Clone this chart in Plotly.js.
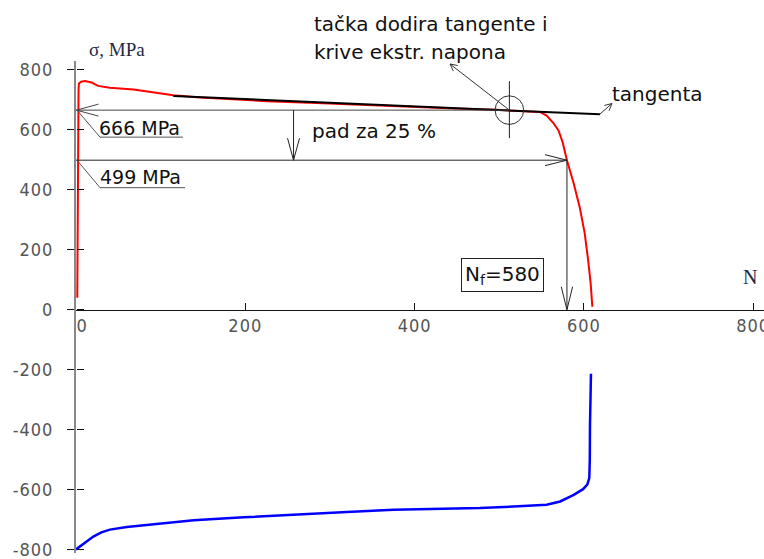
<!DOCTYPE html>
<html>
<head>
<meta charset="utf-8">
<script src="https://cdn.plot.ly/plotly-3.0.1.min.js"></script>
<style>
html,body{margin:0;padding:0;background:#fff;}
#chart{width:764px;height:559px;}
.xtick text, .ytick text { letter-spacing: 1px; }
</style>
</head>
<body>
<div id="chart"></div>
<script>
// ---- data ----
const maxN = [1.5, 1.8, 2.2, 3, 3.5, 6, 10.6, 18.5, 26, 40, 68, 95, 115, 146.5, 186, 225, 284, 340, 418, 470, 497, 512, 530, 548, 556, 564, 570, 575, 580, 588, 595, 601, 605, 608, 610];
const maxS = [40, 300, 600, 735, 755, 761, 763, 758, 747, 741, 735, 725, 716, 708, 701, 696, 690, 683, 673, 669, 667, 665, 663, 660, 648, 623, 598, 558, 499, 421, 343, 255, 166, 88, 10];

const minN = [0, 10, 20.5, 30, 40, 60, 99, 139, 198, 264, 320, 375, 430, 477, 517, 556, 572, 588, 599, 604, 606.4, 607, 607.2, 607.6, 608.4];
const minS = [-800, -780, -757, -743, -734, -725, -714, -703, -693, -682, -675, -668, -665, -662, -657, -651, -640, -618, -599, -584, -562, -501, -390, -279, -214];

const tangentN = [115, 619];
const tangentS = [713, 652];

const sigmaTouch = 666;   // stress at tangent point
const sigmaDrop = 499;    // 25 % drop
const Nf = 580;           // cycles to failure
const Ntouch = 512;       // tangent touch point
const Npad = 257;         // position of "pad za 25 %" arrow

const xTickVals = [0, 200, 400, 600, 800];
const xTickText = ['\u00a0\u00a00', '200', '400', '600', '800'];
const yTickVals = [-800, -600, -400, -200, 0, 200, 400, 600, 800];
const yTickText = ['-800', '-600', '-400', '-200', '0', '200', '400', '600', '800'];

// ---- geometry ----
const W = 764, H = 559;
const M = {l: 76, r: 0, t: 61, b: 6};
const plotW = W - M.l - M.r, plotH = H - M.t - M.b;
const xr = [0, 812.8], yr = [-812, 830];
const kx = plotW / (xr[1] - xr[0]);
const ky = plotH / (yr[1] - yr[0]);
const toN = px => xr[0] + (px - M.l) / kx;
const toS = py => yr[1] - (py - M.t) / ky;
const pxOfN = n => M.l + (n - xr[0]) * kx;
const pyOfS = s => M.t + (yr[1] - s) * ky;
const paperX = px => (px - M.l) / plotW;
const paperY = py => 1 - (py - M.t) / plotH;

const ink = '#222';
const shapes = [];
function seg(x0, y0, x1, y1, color, width) {
  shapes.push({type: 'line', xref: 'x', yref: 'y', x0: x0, y0: y0, x1: x1, y1: y1,
    line: {color: color || ink, width: width || 1}});
}
function segPx(a, b, c, d, color, width) { seg(toN(a), toS(b), toN(c), toS(d), color, width); }
// open "V" arrow head at tip (data), pointing in pixel direction (dx,dy)
function head(n, s, dx, dy, len, half, color) {
  len = len || 22; half = half || 6;
  const L = Math.hypot(dx, dy); dx /= L; dy /= L;
  const tx = pxOfN(n), ty = pyOfS(s);
  const bx = tx - dx * len, by = ty - dy * len;
  const px = -dy, py = dx;
  segPx(tx, ty, bx + px * half, by + py * half, color);
  segPx(tx, ty, bx - px * half, by - py * half, color);
}

// horizontal at 666 with arrow to the axis
seg(0, sigmaTouch, Ntouch, sigmaTouch, '#444', 1);
head(0.6, sigmaTouch, -1, 0, 22, 6, '#444');
// pad arrow
seg(Npad, sigmaTouch, Npad, sigmaDrop, ink, 1);
head(Npad, sigmaDrop, 0, 1, 22, 6);
// horizontal at 499 to the curve
seg(0, sigmaDrop, Nf, sigmaDrop, ink, 1);
head(Nf, sigmaDrop, 1, 0, 22, 5.5);
// vertical down to Nf
seg(Nf, sigmaDrop, Nf, 0, ink, 1);
head(Nf, 0, 0, 1, 23, 5.7);
// leaders for the value labels
const y666 = pyOfS(sigmaTouch), y499 = pyOfS(sigmaDrop);
segPx(M.l + 1, y666, 100, y666 + 27, '#555', 1);
segPx(100, y666 + 27, 183, y666 + 27, '#555', 1);
segPx(M.l + 1, y499, 100, y499 + 27.5, '#555', 1);
segPx(100, y499 + 27.5, 185, y499 + 27.5, '#555', 1);
// circle and cross hair at the tangent point
const cx = pxOfN(Ntouch), cy = pyOfS(sigmaTouch), r = 14.3;
shapes.push({type: 'circle', xref: 'x', yref: 'y', x0: toN(cx - r), x1: toN(cx + r), y0: toS(cy + r), y1: toS(cy - r),
  line: {color: '#333', width: 1}});
segPx(cx, cy - 29, cx, cy + 28, ink, 1);
// leader to the upper text
segPx(cx, cy, 450, 64, '#333', 1);
(function () { const dx = 450 - cx, dy = 64 - cy; head(toN(450), toS(64), dx, dy, 7, 3.5, '#333'); })();
// leader to "tangenta"
segPx(600, 114, 612, 103.5, '#333', 1);
head(toN(612), toS(103.5), 12, -10.5, 7, 3.5, '#333');

// ---- texts ----
const txtFont = {family: 'DejaVu Sans, Liberation Sans, sans-serif', size: 20, color: '#111'};
const serifFont = {family: 'Liberation Serif, Times New Roman, serif', size: 19, color: '#1f2a44'};
function label(text, px, py, xanchor, font, extra) {
  return Object.assign({xref: 'paper', yref: 'paper', x: paperX(px), y: paperY(py), text: text,
    showarrow: false, xanchor: xanchor || 'left', yanchor: 'middle', font: font || txtFont}, extra || {});
}
const annotations = [
  label('tačka dodira tangente i', 312, 24),
  label('krive ekstr. napona', 312, 52),
  label('tangenta', 610, 94),
  label('pad za 25 %', 310, 131),
  label('666 MPa', 97, 128, 'left', Object.assign({}, txtFont, {size: 19})),
  label('499 MPa', 98, 177, 'left', Object.assign({}, txtFont, {size: 19})),
  label('N<sub>f</sub>=580', 502, 275, 'center', txtFont, {bordercolor: '#222', borderwidth: 1, borderpad: 3, bgcolor: '#fff'}),
  label('σ, MPa', 87, 50, 'left', serifFont),
  label('N', 750, 277, 'center', Object.assign({}, serifFont, {size: 20}))
];

const traces = [
  {x: maxN, y: maxS, type: 'scatter', mode: 'lines', line: {color: '#ff0000', width: 2}, hoverinfo: 'skip'},
  {x: minN, y: minS, type: 'scatter', mode: 'lines', yaxis: 'y2', line: {color: '#0000ff', width: 2.5}, hoverinfo: 'skip'},
  {x: tangentN, y: tangentS, type: 'scatter', mode: 'lines', line: {color: '#000', width: 2}, hoverinfo: 'skip'}
];

const tickFont = {family: 'DejaVu Sans Condensed, DejaVu Sans, sans-serif', size: 18, color: '#555'};
const layout = {
  width: W, height: H, margin: M, showlegend: false,
  paper_bgcolor: '#fff', plot_bgcolor: '#fff',
  xaxis: {range: xr, anchor: 'free', position: (0 - yr[0]) / (yr[1] - yr[0]),
    showline: true, linecolor: '#111', linewidth: 1, showgrid: false, zeroline: false,
    ticks: 'inside', ticklen: 7, tickcolor: '#111', tickwidth: 1, ticklabeloverflow: 'allow',
    tickvals: xTickVals, ticktext: xTickText, tickfont: tickFont},
  yaxis: {range: yr, showline: true, linecolor: '#888', linewidth: 2, showgrid: false, zeroline: false,
    ticks: 'outside', ticklen: 7, tickcolor: '#111', tickwidth: 1, ticklabelstandoff: 10, ticklabeloverflow: 'allow',
    tickvals: yTickVals, ticktext: yTickText, tickfont: tickFont},
  yaxis2: {range: yr, overlaying: 'y', side: 'right', anchor: 'free', position: 0, showline: false, showgrid: false, zeroline: false,
    ticks: 'outside', ticklen: 7, tickcolor: '#111', tickwidth: 1, tickvals: yTickVals, showticklabels: false},
  shapes: shapes,
  annotations: annotations
};
Plotly.newPlot('chart', traces, layout, {staticPlot: true, displayModeBar: false});
</script>
</body>
</html>
